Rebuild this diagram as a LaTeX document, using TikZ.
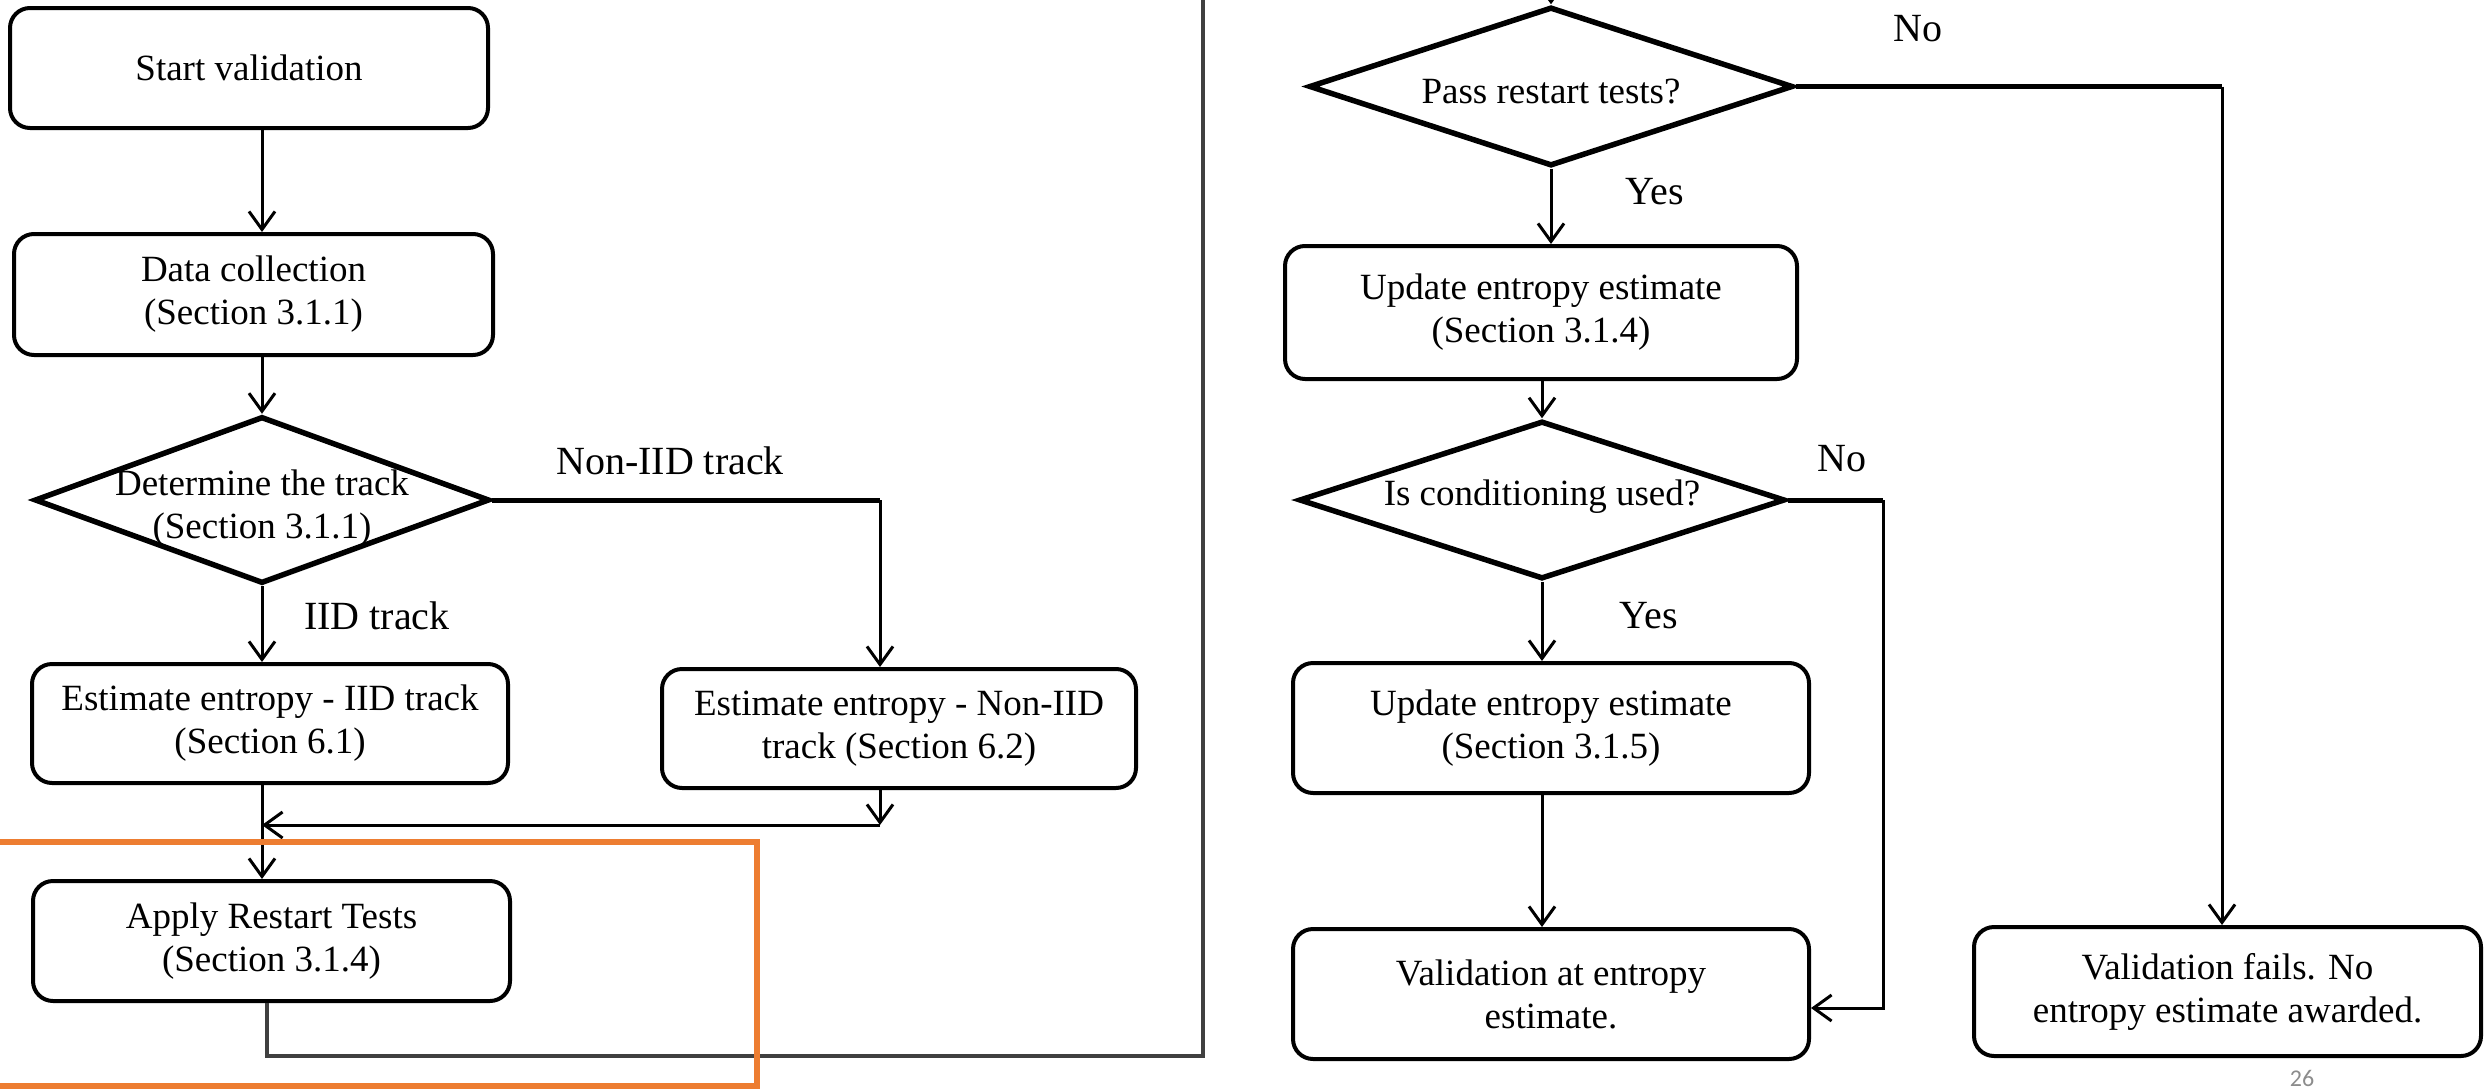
\documentclass[tikz,border=0pt]{standalone}
\usepackage{fontspec}
\setmainfont{Liberation Serif}
\newfontfamily\pgnumfont{Carlito}
\usetikzlibrary{shapes.geometric,arrows.meta}
\definecolor{frameorange}{RGB}{237,125,49}
\definecolor{loopgray}{RGB}{64,64,64}
\begin{document}
\begin{tikzpicture}[x=0.5pt,y=-0.5pt,->,>={Straight Barb[length=9pt,width=13pt]},line width=1.5pt]
   \tikzstyle{main}=[draw=black, rounded corners=10pt, line width=2pt, align=center, inner sep=0pt, font=\fontsize{18.5}{21.5}\selectfont]
   \tikzstyle{dec}=[diamond, draw=black, line width=2.75pt, inner sep=0pt]
   \tikzstyle{dectext}=[align=center, inner sep=0pt, font=\fontsize{18.5}{21.5}\selectfont]
   \tikzstyle{lab}=[font=\fontsize{20}{22}\selectfont]
   \tikzstyle{thickline}=[-, line width=2.5pt]
   \useasboundingbox (0,0) rectangle (2484,1092);
   \clip (0,0) rectangle (2484,1092);
   \foreach \nm/\x/\y/\w/\h/\txt in {start/249/68/239/60/{Start validation},
         data/253.5/294.5/239.5/60.5/{Data collection\\(Section 3.1.1)},
         iid/270/723.5/238/59.5/{Estimate entropy - IID track\\(Section 6.1)},
         noniid/899/728.5/237/59.5/{Estimate entropy - Non-IID\\track (Section 6.2)},
         restart/271.5/941/238.5/60/{Apply Restart Tests\\(Section 3.1.4)},
         upd1/1541/312.5/256/66.5/{Update entropy estimate\\(Section 3.1.4)},
         upd2/1551/728/258/65/{Update entropy estimate\\(Section 3.1.5)},
         valid/1551/994/258/65/{Validation at entropy\\estimate.},
         fails/2227.5/991.5/253.5/64.5/{Validation fails. No\\entropy estimate awarded.}} {
       \node[main, minimum width=\w pt, minimum height=\h pt] (\nm) at (\x,\y) {\txt};
   }
   \foreach \nm/\x/\y/\w/\h in {track/262/500/227.5/83.5, pass/1551/86.5/242/79.5, cond/1542/500/243/79} {
       \node[dec, minimum width=\w pt, minimum height=\h pt] (\nm) at (\x,\y) {};
   }
    \node[dectext] (tracktxt) at (262,508) {Determine the track\\(Section 3.1.1)};
    \node[dectext] (passtxt) at (1551,92) {Pass restart tests?};
    \node[dectext] (condtxt) at (1542,497) {Is conditioning used?};
    \node[lab] (lnoniid) at (670,461) {Non-IID track};
    \node[lab] (liid) at (377,616) {IID track};
    \node[lab] (lno1) at (1918,29) {No};
    \node[lab] (lyes1) at (1655,192) {Yes};
    \node[lab] (lno2) at (1842,459) {No};
    \node[lab] (lyes2) at (1649,616) {Yes};
    \node[anchor=south, inner sep=0pt, text=black!45, font=\pgnumfont\fontsize{12}{12}\selectfont] (pgnum) at (2302,1088) {26};
   % left column
    \path (start.south -| track) edge (data.north -| track);
    \path (data.south -| track) edge (track.north);
    \path (track.south) edge (iid.north -| track);
    \coordinate (nb) at (880,500);
    \draw[thickline] (track.east) -- (nb);
    \path (nb) edge (noniid.north -| nb);
    \coordinate (jn) at (880,825);
    \coordinate (mg) at (262,825);
    \path (noniid.south -| nb) edge (jn);
    \path (jn) edge (mg);
    \path (iid.south -| track) edge (restart.north -| track);
    \coordinate (lb) at (267,1056);
    \coordinate (rb) at (1203,1056);
    \coordinate (rt) at (1203,-10);
    \draw[-, draw=loopgray, line width=2pt] (restart.south -| lb) -- (lb) -- (rb) -- (rt);
    \draw[-, draw=frameorange, line width=3pt] (-5,842) rectangle (757,1086);
   % right column
    \coordinate (in) at (1551,-40);
    \path (in) edge (pass.north);
    \path (pass.south) edge (upd1.north -| pass);
    \path (upd1.south -| cond) edge (cond.north);
    \coordinate (pb) at (2222,86.5);
    \draw[thickline] (pass.east) -- (pb);
    \path (pb) edge (fails.north -| pb);
    \path (cond.south) edge (upd2.north -| cond);
    \path (upd2.south -| cond) edge (valid.north -| cond);
    \coordinate (cb) at (1883,500);
    \coordinate (cd) at (1883,1008);
    \draw[thickline] (cond.east) -- (cb);
    \draw (cb) -- (cd) -- (valid.east |- cd);
\end{tikzpicture}
\end{document}
